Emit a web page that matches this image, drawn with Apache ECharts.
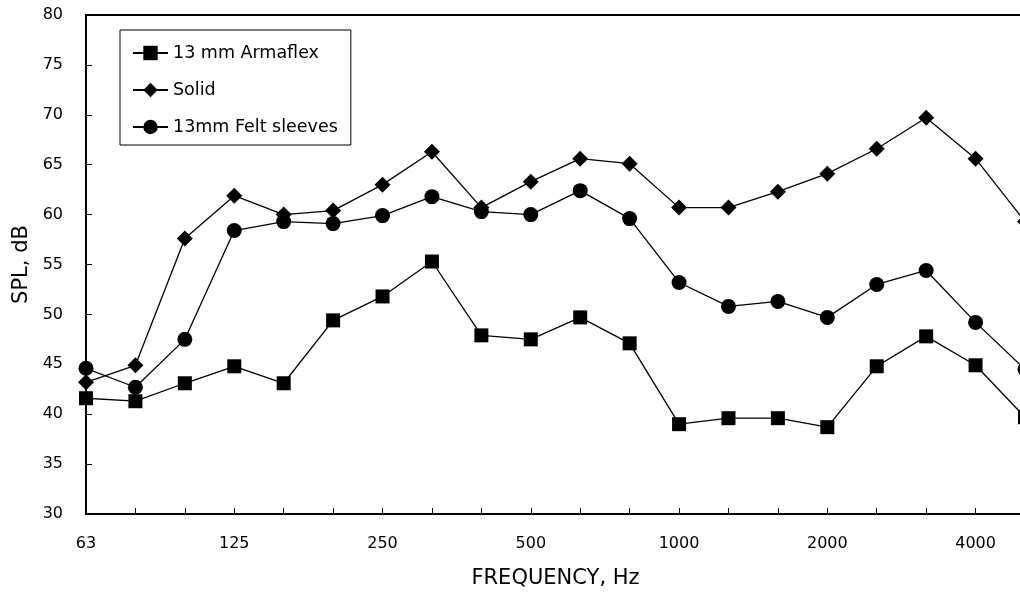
<!DOCTYPE html>
<html>
<head>
<meta charset="utf-8">
<script src="https://cdn.jsdelivr.net/npm/echarts@6/dist/echarts.min.js"></script>
<style>
html,body{margin:0;padding:0;background:#fff;}
#chart{width:1020px;height:592px;}
</style>
</head>
<body>
<div id="chart"></div>
<script>
var categories = ['63','80','100','125','160','200','250','315','400','500','630','800','1000','1250','1600','2000','2500','3150','4000','5000'];
var armaflex = [41.6, 41.3, 43.1, 44.8, 43.1, 49.4, 51.8, 55.3, 47.9, 47.5, 49.7, 47.1, 39.0, 39.6, 39.6, 38.7, 44.8, 47.8, 44.9, 39.7];
var solid    = [43.2, 44.9, 57.6, 61.9, 60.0, 60.4, 63.0, 66.3, 60.7, 63.3, 65.6, 65.1, 60.7, 60.7, 62.3, 64.1, 66.6, 69.7, 65.6, 59.3];
var felt     = [44.6, 42.7, 47.5, 58.4, 59.3, 59.1, 59.9, 61.8, 60.3, 60.0, 62.4, 59.6, 53.2, 50.8, 51.3, 49.7, 53.0, 54.4, 49.2, 44.5];
var seriesNames = ['13 mm Armaflex', 'Solid', '13mm Felt sleeves'];

var FONT = 'DejaVu Sans';
var chart = echarts.init(document.getElementById('chart'), null, {renderer: 'canvas'});

function mk(name, data, symbol, size) {
  return {
    name: name, type: 'line', data: data,
    symbol: symbol, symbolSize: size,
    showAllSymbol: true,
    clip: false,
    lineStyle: {color: '#000', width: 1.3},
    itemStyle: {color: '#000', borderWidth: 0},
    emphasis: {disabled: true},
    animation: false
  };
}

chart.setOption({
  animation: false,
  backgroundColor: '#fff',
  grid: {left: 86, right: -5, top: 15, bottom: 78, outerBoundsMode: 'none', containLabel: false,
         show: true, borderColor: '#000', borderWidth: 2, backgroundColor: 'transparent'},
  legend: {
    orient: 'vertical', left: 120, top: 30,
    padding: [14, 13, 9, 12],
    itemGap: 19, itemWidth: 35, itemHeight: 18,
    borderColor: '#000', borderWidth: 1, backgroundColor: '#fff',
    textStyle: {fontFamily: FONT, fontSize: 17.5, color: '#000', lineHeight: 18, padding: [0,0,0,0]},
    data: seriesNames
  },
  xAxis: {
    type: 'category', data: categories, boundaryGap: false,
    name: 'FREQUENCY, Hz', nameLocation: 'middle', nameGap: 54,
    nameTextStyle: {fontFamily: FONT, fontSize: 21, color: '#000'},
    axisLine: {lineStyle: {color: '#000', width: 2}},
    axisTick: {inside: true, length: 6, interval: 0, lineStyle: {color: '#000', width: 1}},
    axisLabel: {interval: 2, margin: 22, fontFamily: FONT, fontSize: 16, color: '#000'},
    splitLine: {show: false}
  },
  yAxis: {
    type: 'value', min: 30, max: 80, interval: 5,
    name: 'SPL, dB', nameLocation: 'middle', nameGap: 54,
    nameTextStyle: {fontFamily: FONT, fontSize: 21, color: '#000'},
    axisLine: {show: true, lineStyle: {color: '#000', width: 2}},
    axisTick: {show: true, inside: true, length: 6, lineStyle: {color: '#000', width: 1}},
    axisLabel: {margin: 23, fontFamily: FONT, fontSize: 16, color: '#000'},
    splitLine: {show: false}
  },
  series: [
    mk(seriesNames[0], armaflex, 'rect', 14),
    mk(seriesNames[1], solid, 'diamond', 16),
    mk(seriesNames[2], felt, 'circle', 15)
  ]
});
</script>
</body>
</html>
